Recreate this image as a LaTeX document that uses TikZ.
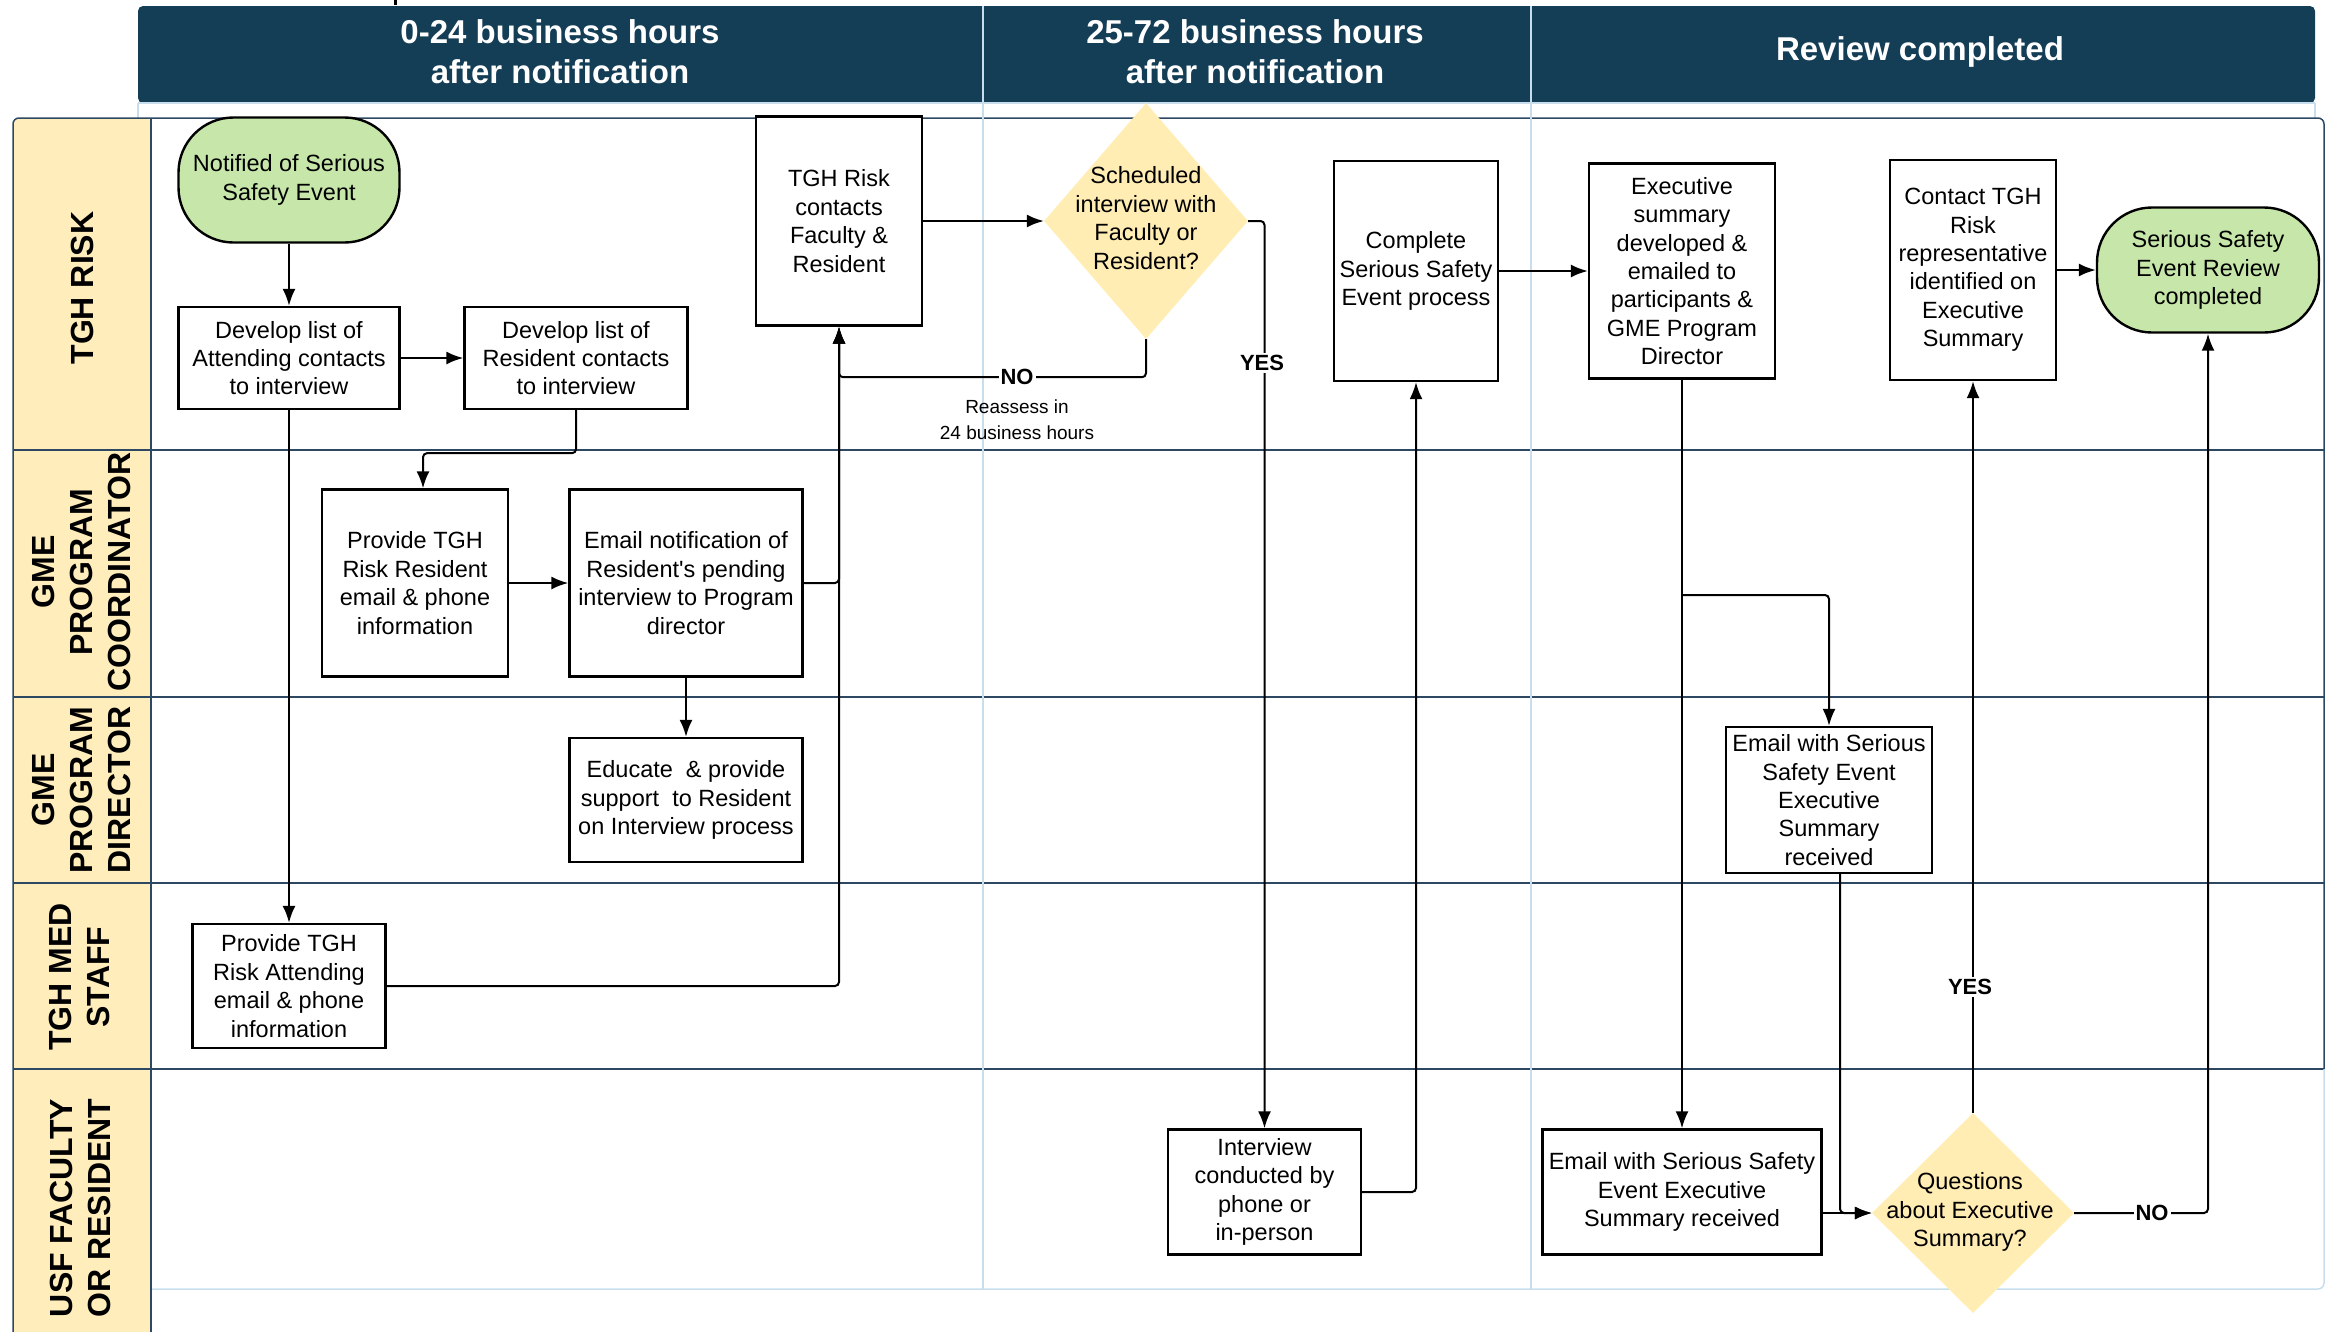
\documentclass[tikz,border=0pt]{standalone}
\usepackage{fontspec}
\setmainfont{Liberation Sans}
\usetikzlibrary{shapes.geometric,arrows.meta,calc}
\definecolor{hdr}{RGB}{20,61,86}
\definecolor{lanefill}{RGB}{255,238,187}
\definecolor{diafill}{RGB}{255,237,180}
\definecolor{termfill}{RGB}{199,231,170}
\definecolor{laneline}{RGB}{45,72,98}
\definecolor{colline}{RGB}{200,222,236}
\newcommand{\straightapos}{\XeTeXglyph\XeTeXcharglyph"0027\relax}
\begin{document}
\begin{tikzpicture}[x=1pt,y=-1pt,
  boxtext/.style={font=\fontsize{23.5}{28.4}\selectfont},
  pbox/.style={draw,line width=2.4pt,fill=white,align=center,inner sep=0pt,boxtext},
  term/.style={pbox,fill=termfill,rounded corners=55pt},
  dshape/.style={diamond,fill=diafill,inner sep=0pt},
  dtext/.style={align=center,boxtext,inner sep=0pt},
  conn/.style={line width=2pt,rounded corners=4pt},
  arr/.style={conn,-{Latex[length=17pt,width=13pt]}},
  lbl/.style={fill=white,inner sep=2pt,font=\fontsize{22}{26}\selectfont\bfseries},
  lanelabel/.style={rotate=90,align=center,font=\fontsize{32}{38}\selectfont\bfseries},
  hdrtext/.style={text=white,align=center,font=\fontsize{33}{40}\selectfont\bfseries},
  smalltext/.style={align=center,font=\fontsize{19}{26}\selectfont}]
\useasboundingbox (0,0) rectangle (2327,1331);
% header
\fill[hdr,rounded corners=5pt] (138,6) rectangle (2315,103);
\draw[colline,line width=1.2pt] (138,103) -- (2315,103);
\draw[colline,line width=1.2pt] (138,103) -- (138,118);
\draw[colline,line width=1.2pt] (2315,103) -- (2315,118);
% pool
\fill[lanefill,rounded corners=6pt] (13,1345) -- (13,118) -- (151,118) -- (151,1345);
\foreach \yy in {450,697,883,1069} \draw[laneline,line width=1.3pt] (13,\yy) -- (2324,\yy);
\draw[laneline,line width=1.5pt,rounded corners=6pt] (13,1340) -- (13,118) -- (2324,118) -- (2324,1069);
\draw[colline,line width=1.5pt,rounded corners=6pt] (2324,1069) -- (2324,1289) -- (151,1289);
\draw[laneline,line width=1.5pt] (151,118) -- (151,1340);
\draw[colline,line width=1.2pt] (983,6) -- (983,1289);
\draw[colline,line width=1.2pt] (1531,6) -- (1531,1289);
\draw[line width=3pt] (395,0) -- (395,5);
% header texts
\node[hdrtext] (h1) at (560,52) {0-24 business hours\\after notification};
\node[hdrtext] (h2) at (1255,52) {25-72 business hours\\after notification};
\node[hdrtext] (h3) at (1920,52) {Review completed};
% lane labels
\node[lanelabel] (l1) at (82,288) {TGH RISK};
\node[lanelabel] (l2) at (81,572) {GME\\PROGRAM\\COORDINATOR};
\node[lanelabel] (l3) at (81,790) {GME\\PROGRAM\\DIRECTOR};
\node[lanelabel] (l4) at (79,977) {TGH MED\\STAFF};
\node[lanelabel] (l5) at (80,1208) {USF FACULTY\\OR RESIDENT};
% nodes
\node[term,minimum width=221pt,minimum height=125pt] (notified) at (289,180) {Notified of Serious\\Safety Event};
\node[pbox,minimum width=221pt,minimum height=102pt] (attdev) at (289,358) {Develop list of\\Attending contacts\\to interview};
\node[pbox,minimum width=223pt,minimum height=102pt] (resdev) at (576,358) {Develop list of\\Resident contacts\\to interview};
\node[pbox,minimum width=166pt,minimum height=209pt] (riskc) at (839,221) {TGH Risk\\contacts\\Faculty \&\\Resident};
\node[pbox,minimum width=186pt,minimum height=187pt] (provres) at (415,583) {Provide TGH\\Risk Resident\\email \& phone\\information};
\node[pbox,minimum width=233pt,minimum height=187pt] (emailnot) at (686,583) {Email notification of\\Resident\straightapos s pending\\interview to Program\\director};
\node[pbox,minimum width=233pt,minimum height=124pt] (educate) at (686,800) {Educate\ \ \& provide\\support\ \ to Resident\\on Interview process};
\node[pbox,minimum width=193pt,minimum height=124pt] (provatt) at (289,986) {Provide TGH\\Risk Attending\\email \& phone\\information};
\node[dshape,minimum width=204pt,minimum height=236pt] (dia1) at (1146,221) {};
\node[dtext] (dia1t) at (1146,218) {Scheduled\\interview with\\Faculty or\\Resident?};
\node[pbox,minimum width=164pt,minimum height=220pt] (complete) at (1416,271) {Complete\\Serious Safety\\Event process};
\node[pbox,minimum width=186pt,minimum height=215pt] (execsum) at (1682,271) {Executive\\summary\\developed \&\\emailed to\\participants \&\\GME Program\\Director};
\node[pbox,minimum width=166pt,minimum height=220pt] (contact) at (1973,270) {Contact TGH\\Risk\\representative\\identified on\\Executive\\Summary};
\node[term,minimum width=222pt,minimum height=125pt] (final) at (2208,270) {Serious Safety\\Event Review\\completed};
\node[pbox,minimum width=193pt,minimum height=125pt] (interview) at (1264.5,1192) {Interview\\conducted by\\phone or\\in-person};
\node[pbox,minimum width=279pt,minimum height=125pt] (usfemail) at (1682,1192) {Email with Serious Safety\\Event Executive\\Summary received};
\node[pbox,minimum width=206pt,minimum height=146pt] (pdemail) at (1829,800) {Email with Serious\\Safety Event\\Executive\\Summary\\received};
\node[dshape,minimum width=202pt,minimum height=200pt] (dia2) at (1973,1213) {};
\node[dtext] (dia2t) at (1970,1212) {Questions\\about Executive\\Summary?};
% connectors
\draw[arr] (notified.south) -- (attdev.north);
\draw[arr] (attdev.east) -- (resdev.west);
\draw[arr] (resdev.south) -- ++(0,43) -| ([xshift=8pt]provres.north);
\draw[arr] (attdev.south) -- (provatt.north);
\draw[arr] (provres.east) -- (emailnot.west);
\draw[arr] (emailnot.south) -- (educate.north);
\draw[arr] (emailnot.east) -| (riskc.south);
\draw[arr] (provatt.east) -| (riskc.south);
\draw[arr] (riskc.east) -- (dia1.west);
\draw[arr] (dia1.south) -- ++(0,38) -| (riskc.south);
\draw[arr] (dia1.east) -| (interview.north);
\draw[arr] (interview.east) -| (complete.south);
\draw[arr] (complete.east) -- (execsum.west);
\draw[arr] (execsum.south) -- (usfemail.north);
\coordinate (br) at (1682,595);
\draw[arr] (br) -| (pdemail.north);
\draw[arr] ([xshift=11pt]pdemail.south) |- (dia2.west);
\draw[arr] (usfemail.east |- dia2.west) -- (dia2.west);
\draw[arr] (dia2.north) -- (contact.south);
\draw[arr] (contact.east) -- (final.west);
\draw[arr] (dia2.east) -| (final.south);
% labels
\node[lbl] (no1) at (1017,377) {NO};
\node[smalltext] (reass) at (1017,420) {Reassess in\\24 business hours};
\node[lbl] (yes1) at (1262,363) {YES};
\node[lbl] (yes2) at (1970,987) {YES};
\node[lbl] (no2) at (2152,1213) {NO};
\end{tikzpicture}
\end{document}
